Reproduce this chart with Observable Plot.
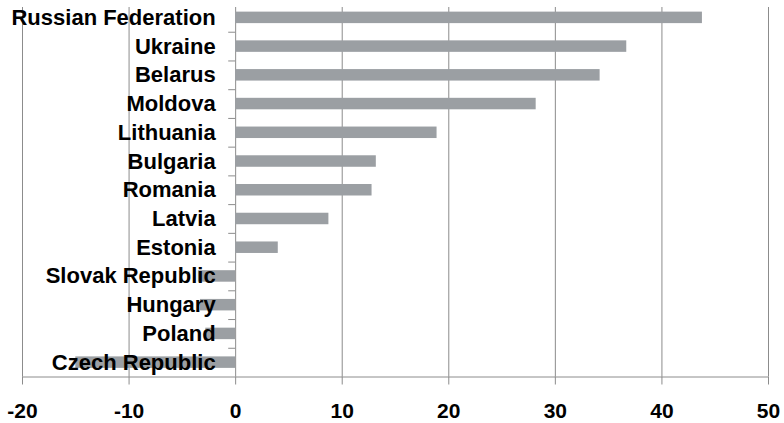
<!DOCTYPE html>
<html>
<head>
<meta charset="utf-8">
<script src="https://cdn.jsdelivr.net/npm/d3@7"></script>
<script src="https://cdn.jsdelivr.net/npm/@observablehq/plot@0.6"></script>
<style>
  html, body { margin: 0; padding: 0; background: #fff; }
  #chart svg { display: block; }
</style>
</head>
<body>
<div id="chart"></div>
<script>
const countries = ["Russian Federation", "Ukraine", "Belarus", "Moldova", "Lithuania", "Bulgaria", "Romania", "Latvia", "Estonia", "Slovak Republic", "Hungary", "Poland", "Czech Republic"];
const values = [43.8, 36.7, 34.2, 28.2, 18.9, 13.2, 12.8, 8.75, 4.0, -3.5, -3.3, -2.8, -15.0];
const xTicks = [-20, -10, 0, 10, 20, 30, 40, 50];

const data = countries.map((c, i) => ({country: c, value: values[i]}));

const W = 784, H = 423, mT = 3, mB = 46.5;
const step = (H - mT - mB) / countries.length;

const grey = "#8c8c8c";

const chart = Plot.plot({
  width: W,
  height: H,
  marginLeft: 22,
  marginRight: 16,
  marginTop: mT,
  marginBottom: mB,
  style: {fontFamily: "'Liberation Sans', Arial, sans-serif", background: "#fff"},
  x: {domain: [-20, 50], ticks: xTicks, label: null},
  y: {domain: countries, paddingInner: 0.6, paddingOuter: 0.3, round: false, axis: null},
  marks: [
    Plot.ruleX(xTicks, {stroke: grey, strokeWidth: 1, insetTop: 4}),
    Plot.barX(data, {y: "country", x: "value", fill: "#9b9fa3"}),
    Plot.ruleY(countries.slice(0, -1), {y: d => d, x1: -0.65, x2: 0, dy: step / 2, stroke: grey}),
    Plot.ruleY(countries.slice(-1), {y: d => d, x1: -20, x2: 50, dy: step / 2, stroke: grey}),
    Plot.axisX({
      ticks: xTicks,
      tickFormat: d => String(d),
      tickSize: 8,
      tickPadding: 18,
      stroke: grey,
      fill: "#000",
      fontSize: 21,
      fontWeight: "bold",
      label: null
    }),
    Plot.text(data, {
      x: 0, y: "country", text: "country",
      dx: -20, textAnchor: "end",
      fontSize: 22, fontWeight: "bold", fill: "#000"
    })
  ]
});

document.getElementById("chart").appendChild(chart);
</script>
</body>
</html>
